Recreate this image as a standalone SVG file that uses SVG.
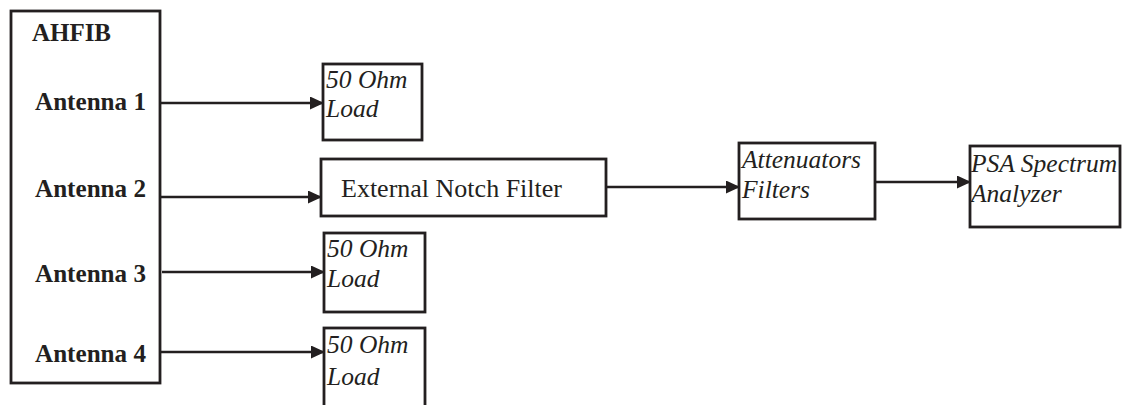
<svg xmlns="http://www.w3.org/2000/svg" width="1127" height="405" viewBox="0 0 1127 405">
<style>
.box{fill:#fff;stroke:#231f20;stroke-width:2.8}
.b{font-family:"Liberation Serif","Times New Roman",serif;font-weight:bold;font-size:25.5px;fill:#231f20}
.i{font-family:"Liberation Serif","Times New Roman",serif;font-style:italic;font-size:25.5px;fill:#231f20}
.r{font-family:"Liberation Serif","Times New Roman",serif;font-size:24.5px;fill:#231f20}
.c{stroke:#231f20;stroke-width:2.6;fill:none;marker-end:url(#ah)}
</style>
<defs>
<marker id="ah" markerWidth="14" markerHeight="13" refX="13" refY="6.5" orient="auto" markerUnits="userSpaceOnUse">
<path d="M0,0 L14,6.5 L0,13 Z" fill="#231f20"/>
</marker>
</defs>
<rect width="1127" height="405" fill="#fff"/>
<g id="ahfib">
<rect class="box" x="11" y="11" width="149" height="372"/>
<text class="b" x="32" y="41" textLength="79" lengthAdjust="spacingAndGlyphs">AHFIB</text>
<text class="b" x="35" y="110" textLength="111" lengthAdjust="spacingAndGlyphs">Antenna 1</text>
<text class="b" x="35" y="197" textLength="111" lengthAdjust="spacingAndGlyphs">Antenna 2</text>
<text class="b" x="35" y="282" textLength="111" lengthAdjust="spacingAndGlyphs">Antenna 3</text>
<text class="b" x="35" y="362" textLength="111" lengthAdjust="spacingAndGlyphs">Antenna 4</text>
</g>
<g id="load1">
<rect class="box" x="323" y="64" width="99" height="76"/>
<text class="i" x="326" y="88">50 Ohm</text>
<text class="i" x="326" y="117">Load</text>
</g>
<g id="notch">
<rect class="box" x="321" y="159" width="285" height="57"/>
<text class="r" x="341" y="197" textLength="221" lengthAdjust="spacingAndGlyphs">External Notch Filter</text>
</g>
<g id="load3">
<rect class="box" x="324" y="233" width="101" height="79"/>
<text class="i" x="327" y="257">50 Ohm</text>
<text class="i" x="327" y="287">Load</text>
</g>
<g id="load4">
<rect class="box" x="324" y="328" width="101" height="90"/>
<text class="i" x="327" y="353">50 Ohm</text>
<text class="i" x="327" y="385">Load</text>
</g>
<g id="atten">
<rect class="box" x="739" y="143" width="136" height="76"/>
<text class="i" x="742" y="168">Attenuators</text>
<text class="i" x="742" y="198">Filters</text>
</g>
<g id="psa">
<rect class="box" x="970" y="146" width="150" height="81"/>
<text class="i" x="971" y="172">PSA Spectrum</text>
<text class="i" x="971" y="202">Analyzer</text>
</g>
<g id="connectors">
<line class="c" x1="160" y1="103" x2="323" y2="103"/>
<line class="c" x1="160" y1="197" x2="321" y2="197"/>
<line class="c" x1="162" y1="272" x2="324" y2="272"/>
<line class="c" x1="160" y1="352" x2="324" y2="352"/>
<line class="c" x1="606" y1="187" x2="739" y2="187"/>
<line class="c" x1="875" y1="182" x2="970" y2="182"/>
</g>
</svg>
